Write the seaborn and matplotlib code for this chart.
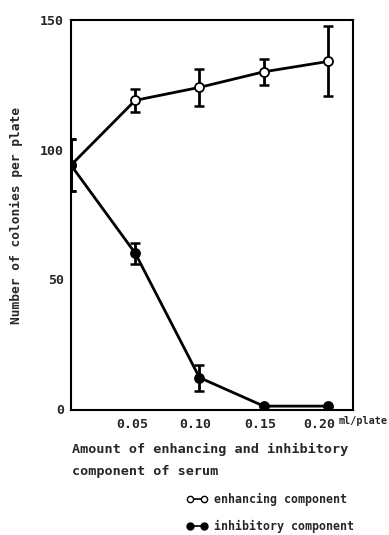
import matplotlib
matplotlib.use("Agg")
import matplotlib.pyplot as plt
from matplotlib.lines import Line2D
from matplotlib.transforms import ScaledTranslation
import seaborn as sns
import pandas as pd

amount = [0.0, 0.05, 0.10, 0.15, 0.20]
enhancing = [94, 119, 124, 130, 134]
enhancing_err = [10, 4.5, 7, 5, 13.5]
inhibitory = [94, 60, 12, 1, 1]
inhibitory_err = [10, 4, 5, 0, 0]
xticks = [0.05, 0.10, 0.15, 0.20]
xticklabels = ["0.05", "0.10", "0.15", "0.20"]
yticks = [0, 50, 100, 150]

sns.set_style("white")
plt.rcParams['font.family'] = ['DejaVu Sans Mono', 'DejaVu Sans']
plt.rcParams['font.weight'] = 'bold'

fig = plt.figure(figsize=(3.89, 5.35), dpi=100)
ax = fig.add_axes([71/389, 1 - 410/535, (353 - 71)/389, (410 - 20)/535])

df_e = pd.DataFrame({"amount": amount, "colonies": enhancing})
df_i = pd.DataFrame({"amount": amount, "colonies": inhibitory})

ax.errorbar(amount, enhancing, yerr=enhancing_err, fmt='none', ecolor='black',
            elinewidth=2, capsize=3.5, capthick=1.8, zorder=2)
ax.errorbar(amount[:3], inhibitory[:3], yerr=inhibitory_err[:3], fmt='none', ecolor='black',
            elinewidth=2, capsize=3.5, capthick=1.8, zorder=2)
sns.lineplot(data=df_e, x="amount", y="colonies", ax=ax, color="black", lw=2,
             marker='o', markersize=6.5, markerfacecolor='white',
             markeredgecolor='black', markeredgewidth=1.3, zorder=3)
sns.lineplot(data=df_i, x="amount", y="colonies", ax=ax, color="black", lw=2,
             marker='o', markersize=7, markerfacecolor='black',
             markeredgecolor='black', zorder=4)

ax.set_xlim(0, 0.2195)
ax.set_ylim(-0.5, 150)
ax.set_xticks(xticks)
ax.set_xticklabels(xticklabels, fontsize=9.5, fontweight='bold')
ax.set_yticks(yticks)
ax.set_yticklabels([str(v) for v in yticks], fontsize=9.5, fontweight='bold')
ax.tick_params(axis='x', direction='in', length=3, width=1, pad=6)
ax.tick_params(axis='y', direction='inout', length=6, width=1, pad=2)
for s in ax.spines.values():
    s.set_visible(True)
    s.set_color('black')
    s.set_linewidth(1.5)

# shift x tick labels slightly left, as in the original print
shifts = [-3, -4, -3, -9]
for lab, dx in zip(ax.get_xticklabels(), shifts):
    lab.set_transform(lab.get_transform() + ScaledTranslation(dx / 100, 0, fig.dpi_scale_trans))

ax.set_xlabel("")
ax.set_ylabel("Number of colonies per plate", fontsize=9.3, fontweight='bold', labelpad=12)

fig.text(339/389, 1 - 421/535, "ml/plate", fontsize=7.3, fontweight='bold',
         ha='left', va='center')
fig.text(72/389, 1 - 460/535, "Amount of enhancing and inhibitory\ncomponent of serum",
         fontsize=9.7, fontweight='bold', ha='left', va='center', linespacing=1.9)

handles = [
    Line2D([0], [0], color='black', lw=1.2, marker='o', markersize=4.5,
           markerfacecolor='white', markeredgecolor='black'),
    Line2D([0], [0], color='black', lw=1.2, marker='o', markersize=5,
           markerfacecolor='black', markeredgecolor='black'),
]
fig.legend(handles, ["enhancing component", "inhibitory component"],
           loc='center left', bbox_to_anchor=(176/389, 1 - 513/535),
           frameon=False, numpoints=2, handlelength=1.8, handletextpad=0.6,
           labelspacing=1.15, prop={'size': 8.4, 'weight': 'bold'})

fig.savefig("out.png", dpi=100)
